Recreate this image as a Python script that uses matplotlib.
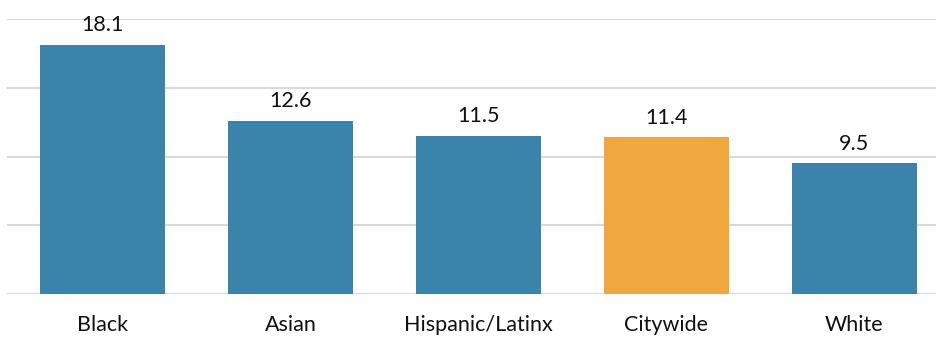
#Import modules
import numpy as np
import matplotlib.pyplot as plt

#Data
groups = ["Black", "Asian", "Hispanic/Latinx", "Citywide", "White"]
values = [18.1, 12.6, 11.5, 11.4, 9.5]
barColors = ["#3A84AC", "#3A84AC", "#3A84AC", "#F0A83E", "#3A84AC"]

plt.rcParams['font.family'] = ['Lato', 'DejaVu Sans']

#Figure and axes
fig = plt.figure(figsize=(9.37, 3.37), dpi=100)
ax = fig.add_axes([7 / 937, 43 / 337, 1 - 7 / 937, 275 / 337])

xPos = np.arange(len(groups))
bars = ax.bar(xPos, values, width=0.665, color=barColors, zorder=2)

#Value labels above bars
for x, v in zip(xPos, values):
    ax.annotate(f"{v}", xy=(x, v), xytext=(0, 7), textcoords="offset points",
                ha="center", va="bottom", fontsize=15.5, color="#111111")

#Axes styling
ax.set_xlim(-0.508, 4.44)
ax.set_ylim(0, 20)
ax.set_yticks([0, 5, 10, 15, 20])
ax.set_yticklabels([])
ax.tick_params(axis="y", length=0)
ax.tick_params(axis="x", length=0, pad=15, labelsize=15.5, labelcolor="#111111")
ax.set_xticks(xPos)
ax.set_xticklabels(groups)
ax.grid(axis="y", color="#D9D9D9", lw=1.5, zorder=0)
for side in ["left", "right", "top", "bottom"]:
    ax.spines[side].set_visible(False)

fig.savefig("out.png", dpi=100)
